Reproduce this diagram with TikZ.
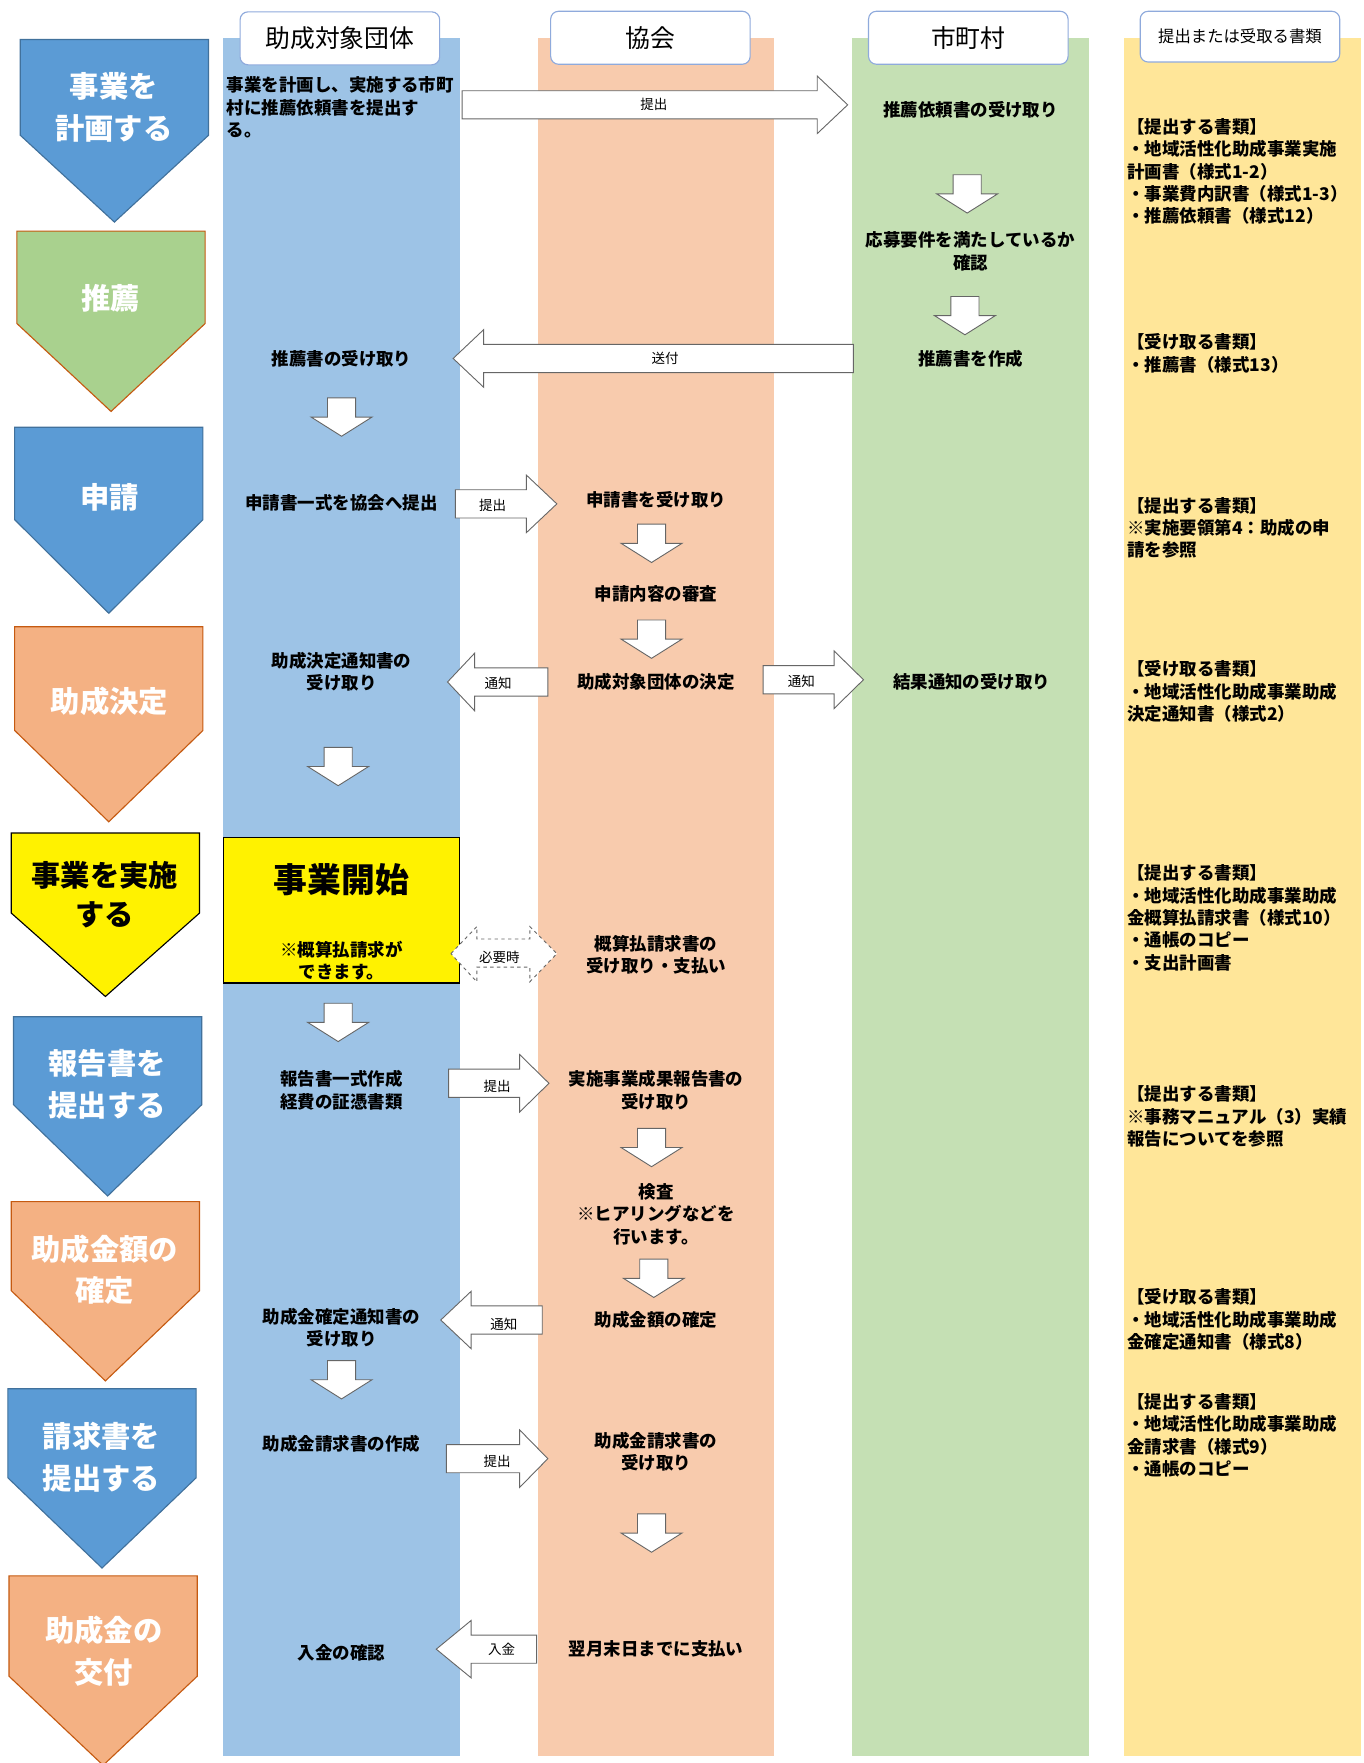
\documentclass[tikz,border=0pt]{standalone}
\usepackage{fontspec}
\setmainfont{Noto Sans CJK JP}
\usetikzlibrary{positioning}
\definecolor{laneblue}{HTML}{9DC3E6}
\definecolor{laneorange}{HTML}{F8CBAD}
\definecolor{lanegreen}{HTML}{C5E0B4}
\definecolor{laneyellow}{HTML}{FFE699}
\definecolor{stblue}{HTML}{5B9BD5}
\definecolor{stgreen}{HTML}{A9D18E}
\definecolor{storange}{HTML}{F4B183}
\definecolor{edblue}{HTML}{41719C}
\definecolor{edorange}{HTML}{C55A11}
\definecolor{headline}{HTML}{8FAADC}
\tikzset{head/.style = {draw=headline, fill=white, rounded corners=7, line width=1,
                        minimum width=177, minimum height=47, inner sep=0,
                        font=\fontsize{22}{26}\selectfont}}
\tikzset{txt/.style = {align=center, inner sep=0, font=\fontsize{15.5}{20}\selectfont\bfseries}}
\tikzset{docs/.style = {align=left, anchor=north west, inner sep=0,
                        font=\fontsize{15.5}{19.8}\selectfont\bfseries}}
\tikzset{tag/.style = {inner sep=0, font=\fontsize{12}{14}\selectfont}}
\tikzset{stagetxt/.style = {align=center, inner sep=0, text=white,
                            font=\fontsize{26}{37}\selectfont\bfseries}}
\tikzset{blk/.style = {draw=black!60, fill=white, line width=0.8}}
\newcommand\downblk[2]{\draw [blk] (#1-12.5,#2) -- (#1+12.5,#2) -- (#1+12.5,#2+17) -- (#1+27,#2+17)
  -- (#1,#2+34) -- (#1-27,#2+17) -- (#1-12.5,#2+17) -- cycle;}
\newcommand\sideblk[4]{\draw [blk] (#1,#4-12.5) -- (#2,#4-12.5) -- (#2,#4-25.5) -- (#3,#4)
  -- (#2,#4+25.5) -- (#2,#4+12.5) -- (#1,#4+12.5) -- cycle;}
\newcommand\stage[7]{\draw [fill=#6, draw=#7, line width=1] (#1,#3) -- (#2,#3) -- (#2,#4)
  -- ({(#1+#2)/2},#5) -- (#1,#4) -- cycle;}

\begin{document}
\begin{tikzpicture}[x=1pt, y=-1pt]
  \fill [white] (0,0) rectangle (1210,1564);
  \useasboundingbox (0,0) rectangle (1210,1564);

  % lanes
  \foreach \x/\c in {198/laneblue, 477/laneorange, 756/lanegreen, 997/laneyellow}
    \fill [\c] (\x,34) rectangle (\x+210,1558);

  \node [head] (hgroup) at (301.5,34) {助成対象団体};
  \node [head] (hassoc) at (577,33.5) {協会};
  \node [head] (hcity) at (859,33.5) {市町村};
  \node [head, minimum height=45, font=\fontsize{14.5}{17}\selectfont] (hdocs) at (1100,32.5) {提出または受取る書類};

  % stages
  \stage{18}{185}{35}{120}{197}{stblue}{edblue}
  \stage{15}{182}{205}{287}{365}{stgreen}{edorange}
  \stage{13}{180}{379}{461}{544}{stblue}{edblue}
  \stage{13}{180}{556}{648}{729}{storange}{edorange}
  \stage{10}{177}{739}{810}{884}{yellow}{black}
  \stage{12}{179}{902}{980}{1061}{stblue}{edblue}
  \stage{10}{177}{1066}{1145}{1225}{storange}{edorange}
  \stage{7}{174}{1232}{1311}{1391}{stblue}{edblue}
  \stage{8}{175}{1398}{1487}{1566}{storange}{edorange}

  \node [stagetxt] (s1) at (101,95.5) {事業を\\計画する};
  \node [stagetxt] (s2) at (98,265) {推薦};
  \node [stagetxt] (s3) at (97,441) {申請};
  \node [stagetxt] (s4) at (97,622) {助成決定};
  \node [stagetxt, text=black, font=\fontsize{26}{35}\selectfont\bfseries] (s5) at (93,793.5) {事業を実施\\する};
  \node [stagetxt] (s6) at (95,962) {報告書を\\提出する};
  \node [stagetxt] (s7) at (93,1126.5) {助成金額の\\確定};
  \node [stagetxt] (s8) at (90,1292.5) {請求書を\\提出する};
  \node [stagetxt] (s9) at (92,1464.5) {助成金の\\交付};

  % group lane
  \node [txt, align=left, anchor=north west] (plan) at (201,68) {事業を計画し、実施する市町\\村に推薦依頼書を提出す\\る。};
  \node [txt] (recvrec) at (303,318) {推薦書の受け取り};
  \node [txt] (apply) at (303,446) {申請書一式を協会へ提出};
  \node [txt] (decrecv) at (303,596) {助成決定通知書の\\受け取り};
  \node [draw, fill=yellow, line width=1, minimum width=210, minimum height=129, inner sep=0] (start) at (303,807.5) {};
  \node [txt, font=\fontsize{30}{34}\selectfont\bfseries] (starttxt) at (303,780) {事業開始};
  \node [txt] (advnote) at (303,852) {※概算払請求が\\できます。};
  \node [txt] (report) at (303,967) {報告書一式作成\\経費の証憑書類};
  \node [txt] (fixrecv) at (303,1178) {助成金確定通知書の\\受け取り};
  \node [txt] (claim) at (303,1281) {助成金請求書の作成};
  \node [txt] (paycheck) at (303,1466) {入金の確認};

  % association lane
  \node [txt] (apprecv) at (582,443) {申請書を受け取り};
  \node [txt] (review) at (582,527) {申請内容の審査};
  \node [txt] (decide) at (582,605) {助成対象団体の決定};
  \node [txt] (advrecv) at (582,847) {概算払請求書の\\受け取り・支払い};
  \node [txt] (resrecv) at (582,967) {実施事業成果報告書の\\受け取り};
  \node [txt] (inspect) at (582,1077) {検査\\※ヒアリングなどを\\行います。};
  \node [txt] (fixamt) at (582,1171) {助成金額の確定};
  \node [txt] (claimrecv) at (582,1288) {助成金請求書の\\受け取り};
  \node [txt] (pay) at (582,1463) {翌月末日までに支払い};

  % city lane
  \node [txt] (reqrecv) at (861,97) {推薦依頼書の受け取り};
  \node [txt] (check) at (861,223) {応募要件を満たしているか\\確認};
  \node [txt] (makerec) at (861,318) {推薦書を作成};
  \node [txt] (result) at (862,605) {結果通知の受け取り};

  % documents lane
  \node [docs] (doc1) at (1000,105) {【提出する書類】\\・地域活性化助成事業実施\\計画書（様式1-2）\\・事業費内訳書（様式1-3）\\・推薦依頼書（様式12）};
  \node [docs] (doc2) at (1000,296) {【受け取る書類】\\・推薦書（様式13）};
  \node [docs] (doc3) at (1000,441) {【提出する書類】\\※実施要領第4：助成の申\\請を参照};
  \node [docs] (doc4) at (1000,586) {【受け取る書類】\\・地域活性化助成事業助成\\決定通知書（様式2）};
  \node [docs] (doc5) at (1000,767) {【提出する書類】\\・地域活性化助成事業助成\\金概算払請求書（様式10）\\・通帳のコピー\\・支出計画書};
  \node [docs] (doc6) at (1000,963) {【提出する書類】\\※事務マニュアル（3）実績\\報告についてを参照};
  \node [docs] (doc7) at (1000,1143) {【受け取る書類】\\・地域活性化助成事業助成\\金確定通知書（様式8）};
  \node [docs] (doc8) at (1000,1236) {【提出する書類】\\・地域活性化助成事業助成\\金請求書（様式9）\\・通帳のコピー};

  % block arrows
  \foreach \x/\y in {303/353, 858/155, 856/263, 578/465, 578/550, 300/663, 300/890,
                     578/1001, 580/1117, 303/1207, 578/1343}
    {\downblk{\x}{\y}}

  \sideblk{410}{725}{752}{93}
  \sideblk{757}{429}{402}{318}
  \sideblk{404}{467}{494}{447}
  \sideblk{486}{421}{397}{605}
  \sideblk{677}{740}{766}{603}
  \sideblk{398}{461}{487}{961}
  \sideblk{481}{418}{391}{1171}
  \sideblk{396}{461}{486}{1294}
  \sideblk{476}{418}{387}{1463}
  \draw [blk, dashed] (400,846) -- (423,822) -- (423,833) -- (470,833) -- (470,822) -- (494,846)
    -- (470,871) -- (470,858) -- (423,858) -- (423,871) -- cycle;

  \node [tag] (t1) at (580,93) {提出};
  \node [tag] (t2) at (590,318) {送付};
  \node [tag] (t3) at (437,448) {提出};
  \node [tag] (t4) at (442,606) {通知};
  \node [tag] (t5) at (711,604) {通知};
  \node [tag] (t6) at (443,849) {必要時};
  \node [tag] (t7) at (441,964) {提出};
  \node [tag] (t8) at (447,1175) {通知};
  \node [tag] (t9) at (441,1296) {提出};
  \node [tag] (t10) at (445,1463) {入金};
\end{tikzpicture}
\end{document}
